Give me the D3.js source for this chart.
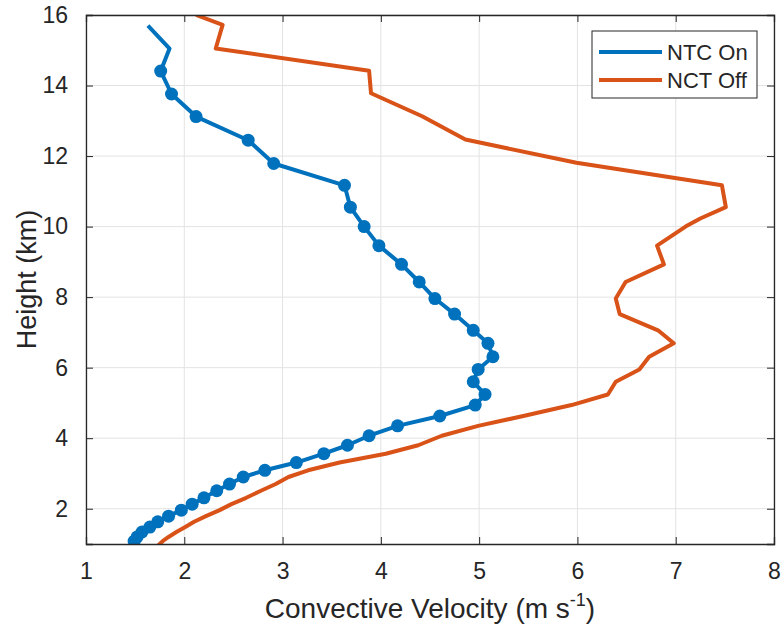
<!DOCTYPE html>
<html>
<head>
<meta charset="utf-8">
<script src="https://cdn.jsdelivr.net/npm/d3@7"></script>
<style>
body { margin: 0; background: #fff; }
text { font-family: Arial, "Liberation Sans", sans-serif; fill: #262626; }
</style>
</head>
<body>
<div id="chart"></div>
<script>
// heights (km) and convective velocity (m/s)
var onHeights = [15.70, 15.05, 14.41, 13.76, 13.12, 12.45, 11.79, 11.17, 10.55, 10.00, 9.46, 8.93, 8.43, 7.96, 7.52, 7.06, 6.69, 6.31, 5.95, 5.60, 5.24, 4.94, 4.63, 4.35, 4.07, 3.80, 3.56, 3.31, 3.09, 2.90, 2.70, 2.51, 2.31, 2.13, 1.96, 1.79, 1.63, 1.48, 1.34, 1.20, 1.08];
var onVelocity = [1.63, 1.85, 1.76, 1.87, 2.12, 2.65, 2.91, 3.63, 3.69, 3.83, 3.98, 4.21, 4.39, 4.55, 4.75, 4.94, 5.09, 5.14, 4.99, 4.94, 5.06, 4.96, 4.60, 4.17, 3.88, 3.66, 3.42, 3.14, 2.82, 2.60, 2.46, 2.33, 2.20, 2.08, 1.97, 1.84, 1.73, 1.65, 1.57, 1.52, 1.49];
// first two levels have no marker
var onNoMarker = 2;

var offHeights = [16.00, 15.72, 15.05, 14.42, 13.78, 13.13, 12.47, 11.81, 11.17, 10.55, 10.23, 10.00, 9.46, 8.93, 8.43, 7.96, 7.52, 7.06, 6.69, 6.31, 5.95, 5.60, 5.24, 4.94, 4.63, 4.35, 4.07, 3.80, 3.56, 3.31, 3.09, 2.90, 2.70, 2.51, 2.31, 2.13, 1.96, 1.79, 1.63, 1.48, 1.34, 1.20, 1.08, 0.95];
var offVelocity = [2.12, 2.39, 2.32, 3.88, 3.90, 4.42, 4.86, 5.99, 7.47, 7.51, 7.25, 7.10, 6.81, 6.88, 6.49, 6.39, 6.43, 6.82, 6.98, 6.73, 6.63, 6.39, 6.31, 5.94, 5.45, 4.99, 4.62, 4.38, 4.05, 3.58, 3.26, 3.06, 2.93, 2.78, 2.63, 2.48, 2.36, 2.22, 2.10, 2.01, 1.92, 1.84, 1.78, 1.73];

var seriesNames = ["NTC On", "NCT Off"];
var seriesColors = ["#0072BD", "#D95319"];
var xTicks = [1, 2, 3, 4, 5, 6, 7, 8];
var yTicks = [2, 4, 6, 8, 10, 12, 14, 16];

var width = 784;
var height = 635;
var margin = {left: 86, right: 10, top: 15, bottom: 91};
var plotW = width - margin.left - margin.right;
var plotH = height - margin.top - margin.bottom;
var axisColor = "#262626";
var gridColor = "#e3e3e3";

var svg = d3.select("#chart").append("svg")
.attr("width", width)
.attr("height", height);

var x = d3.scaleLinear().domain([1, 8]).range([0, plotW]);
var y = d3.scaleLinear().domain([1, 16]).range([plotH, 0]);

var g = svg.append("g")
.attr("transform", "translate(" + margin.left + "," + margin.top + ")");

g.append("clipPath").attr("id", "clip")
.append("rect").attr("width", plotW).attr("height", plotH);

//grid
g.selectAll(".xgrid").data(xTicks).enter().append("line")
.attr("x1", d => x(d)).attr("x2", d => x(d))
.attr("y1", 0).attr("y2", plotH)
.attr("stroke", gridColor).attr("stroke-width", 1);
g.selectAll(".ygrid").data(yTicks).enter().append("line")
.attr("y1", d => y(d)).attr("y2", d => y(d))
.attr("x1", 0).attr("x2", plotW)
.attr("stroke", gridColor).attr("stroke-width", 1);

var line = d3.line()
.x(d => x(d[0]))
.y(d => y(d[1]));

var onData = onVelocity.map((v, i) => [v, onHeights[i]]);
var offData = offVelocity.map((v, i) => [v, offHeights[i]]);

var lines = g.append("g").attr("clip-path", "url(#clip)");

lines.append("path")
.datum(onData)
.attr("d", line)
.attr("fill", "none")
.attr("stroke", seriesColors[0])
.attr("stroke-width", 4)
.attr("stroke-linejoin", "round");

lines.selectAll(".dot")
.data(onData.slice(onNoMarker))
.enter().append("circle")
.attr("cx", d => x(d[0]))
.attr("cy", d => y(d[1]))
.attr("r", 6.5)
.attr("fill", seriesColors[0]);

lines.append("path")
.datum(offData)
.attr("d", line)
.attr("fill", "none")
.attr("stroke", seriesColors[1])
.attr("stroke-width", 4)
.attr("stroke-linejoin", "round");

//axes, ticks pointing inwards on all four sides
var xBottom = d3.axisBottom(x).tickValues(xTicks).tickSize(-7).tickPadding(19).tickFormat(d3.format("d"));
var xTop = d3.axisTop(x).tickValues(xTicks).tickSize(-7).tickFormat("");
var yLeft = d3.axisLeft(y).tickValues(yTicks).tickSize(-7).tickPadding(18).tickFormat(d3.format("d"));
var yRight = d3.axisRight(y).tickValues(yTicks).tickSize(-7).tickFormat("");

g.append("g").attr("transform", "translate(0," + plotH + ")").call(xBottom);
g.append("g").call(xTop);
g.append("g").call(yLeft);
g.append("g").attr("transform", "translate(" + plotW + ",0)").call(yRight);

g.selectAll(".domain").attr("stroke", axisColor).attr("stroke-width", 1.3);
g.selectAll(".tick line").attr("stroke", axisColor).attr("stroke-width", 1);
g.selectAll(".tick text").attr("font-size", 23).attr("fill", axisColor)
.attr("font-family", "Arial, 'Liberation Sans', sans-serif");

//axis labels
var xl = svg.append("text")
.attr("x", margin.left + plotW / 2)
.attr("y", 618)
.attr("text-anchor", "middle")
.attr("font-size", 28);
xl.append("tspan").text("Convective Velocity (m s");
xl.append("tspan").text("-1").attr("font-size", 18).attr("dy", -12);
xl.append("tspan").text(")").attr("dy", 12);

svg.append("text")
.attr("transform", "translate(36," + (margin.top + plotH / 2) + ") rotate(-90)")
.attr("text-anchor", "middle")
.attr("font-size", 27)
.text("Height (km)");

//legend
var legend = svg.append("g").attr("transform", "translate(592,31)");
legend.append("rect")
.attr("width", 165).attr("height", 67)
.attr("fill", "#fff").attr("stroke", axisColor).attr("stroke-width", 1);

var items = legend.selectAll(".legendItem")
.data(seriesNames)
.enter().append("g")
.attr("transform", (d, i) => "translate(0," + (21 + i * 28) + ")");
items.append("line")
.attr("x1", 7).attr("x2", 70)
.attr("stroke", (d, i) => seriesColors[i])
.attr("stroke-width", 4);
items.append("text")
.attr("x", 75).attr("y", 8)
.attr("font-size", 22)
.attr("fill", "#000")
.text(d => d);
</script>
</body>
</html>
